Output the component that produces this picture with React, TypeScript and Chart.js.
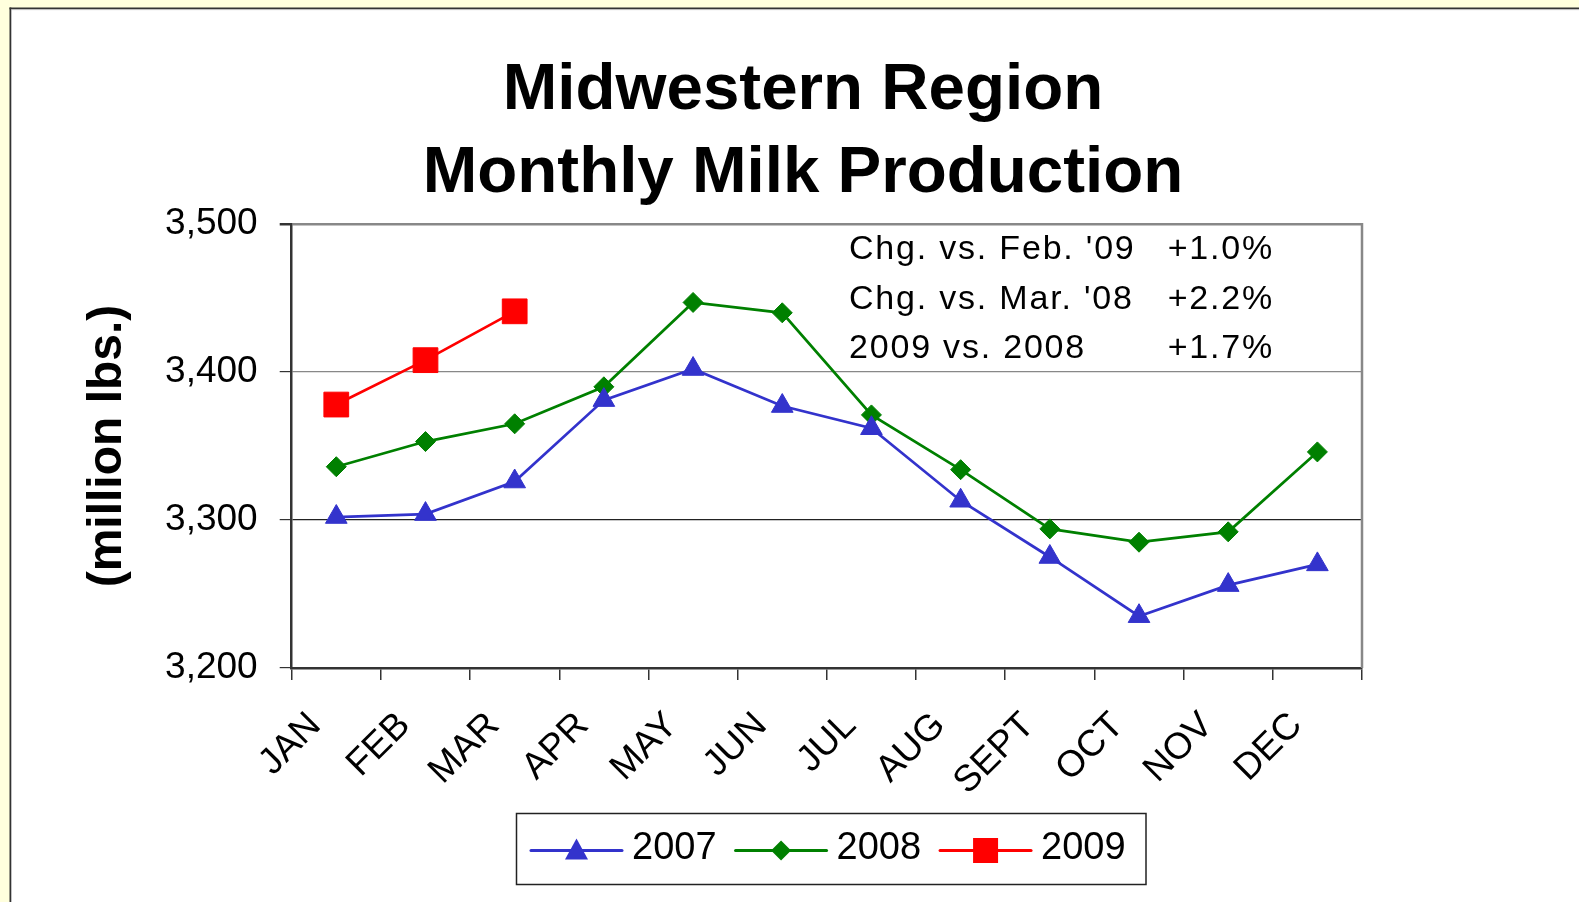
import React, { useEffect, useRef } from "react";
import { Chart, registerables } from "chart.js";

Chart.register(...registerables);

const months = ["JAN", "FEB", "MAR", "APR", "MAY", "JUN", "JUL", "AUG", "SEPT", "OCT", "NOV", "DEC"];
const series2007 = [3302, 3304, 3326, 3381, 3402, 3377, 3362, 3313, 3275, 3235, 3256, 3270];
const series2008 = [3336, 3353, 3365, 3390, 3447, 3440, 3371, 3334, 3294, 3285, 3292, 3346];
const series2009 = [3378, 3408, 3441];
const seriesNames = ["2007", "2008", "2009"];
const yTickValues = [3200, 3300, 3400, 3500];
const titleLines = ["Midwestern Region", "Monthly Milk Production"];
const yAxisTitle = "(million lbs.)";
const noteLabels = ["Chg. vs. Feb. '09", "Chg. vs. Mar. '08", "2009 vs. 2008"];
const noteValues = ["+1.0%", "+2.2%", "+1.7%"];

const W = 1579;
const H = 902;
const FONT = '"Liberation Sans", Arial, Helvetica, sans-serif';

const COLORS = ["#3333CC", "#008000", "#FF0000"];

function drawMarker(ctx: CanvasRenderingContext2D, style: string, x: number, y: number, color: string) {
  ctx.save();
  ctx.fillStyle = color;
  ctx.beginPath();
  if (style === "triangle") {
    ctx.moveTo(x, y - 12);
    ctx.lineTo(x + 11.5, y + 9);
    ctx.lineTo(x - 11.5, y + 9);
    ctx.closePath();
  } else if (style === "rectRot") {
    ctx.moveTo(x, y - 10);
    ctx.lineTo(x + 10, y);
    ctx.lineTo(x, y + 10);
    ctx.lineTo(x - 10, y);
    ctx.closePath();
  } else {
    ctx.rect(x - 12.5, y - 12.5, 25, 25);
  }
  ctx.fill();
  ctx.restore();
}

const decorPlugin = {
  id: "decor",
  beforeDraw(chart: any) {
    const ctx: CanvasRenderingContext2D = chart.ctx;
    ctx.save();
    ctx.fillStyle = "#FFFFDD";
    ctx.fillRect(0, 0, W, H);
    ctx.fillStyle = "#FFFFFF";
    ctx.fillRect(10, 8, W - 10, H - 8);
    ctx.fillStyle = "#333333";
    ctx.fillRect(9.5, 7.5, 1.8, H);
    ctx.fillRect(9.5, 7.5, W, 1.8);
    ctx.fillStyle = "#BBBBBB";
    ctx.fillRect(11.3, 9.3, W, 0.8);
    ctx.restore();
  },
  afterDraw(chart: any) {
    const ctx: CanvasRenderingContext2D = chart.ctx;
    const area = chart.chartArea;
    ctx.save();

    // right border of plot area
    ctx.strokeStyle = "#888888";
    ctx.lineWidth = 2.5;
    ctx.beginPath();
    ctx.moveTo(area.right, area.top - 1);
    ctx.lineTo(area.right, area.bottom);
    ctx.stroke();

    // Title
    ctx.fillStyle = "#000";
    ctx.textAlign = "center";
    ctx.textBaseline = "alphabetic";
    ctx.font = `bold 65.5px ${FONT}`;
    ctx.fillText(titleLines[0], 803, 108.5);
    ctx.fillText(titleLines[1], 803, 191.5);

    // Y axis title
    ctx.save();
    ctx.translate(108, (area.top + area.bottom) / 2);
    ctx.rotate(-Math.PI / 2);
    ctx.font = `bold 48px ${FONT}`;
    ctx.textAlign = "center";
    ctx.textBaseline = "middle";
    ctx.fillText(yAxisTitle, 0, 0);
    ctx.restore();

    // Notes
    ctx.font = `34px ${FONT}`;
    (ctx as any).letterSpacing = "1.8px";
    const baselines = [259, 308.5, 357.5];
    noteLabels.forEach((t, i) => {
      ctx.textAlign = "left";
      ctx.fillText(t, 849, baselines[i]);
      ctx.textAlign = "right";
      ctx.fillText(noteValues[i], 1274, baselines[i]);
    });
    (ctx as any).letterSpacing = "0px";

    // Legend
    ctx.strokeStyle = "#222";
    ctx.lineWidth = 1.5;
    ctx.strokeRect(516.5, 813.5, 629.5, 71);
    ctx.font = `38px ${FONT}`;
    ctx.textAlign = "left";
    ctx.textBaseline = "alphabetic";
    let x0 = 531;
    const ly = 850.5;
    chart.data.datasets.forEach((ds: any) => {
      ctx.strokeStyle = ds.borderColor;
      ctx.lineWidth = 3;
      ctx.lineCap = "round";
      ctx.beginPath();
      ctx.moveTo(x0, ly);
      ctx.lineTo(x0 + 91, ly);
      ctx.stroke();
      drawMarker(ctx, ds.pointStyle, x0 + 45.5, ly, ds.backgroundColor);
      ctx.fillStyle = "#000";
      ctx.fillText(ds.label, x0 + 101, 859);
      x0 += 101 + ctx.measureText(ds.label).width + 19;
    });

    ctx.restore();
  },
};

export default function App() {
  const ref = useRef<HTMLCanvasElement | null>(null);

  useEffect(() => {
    if (!ref.current) return;
    const chart = new Chart(ref.current, {
      type: "line",
      data: {
        labels: months,
        datasets: [
          {
            label: seriesNames[0],
            data: series2007,
            borderColor: COLORS[0],
            backgroundColor: COLORS[0],
            borderWidth: 2.7,
            pointStyle: "triangle",
            pointRadius: 12.5,
            pointBorderWidth: 1,
            pointBorderColor: COLORS[0],
            pointBackgroundColor: COLORS[0],
            tension: 0,
          },
          {
            label: seriesNames[1],
            data: series2008,
            borderColor: COLORS[1],
            backgroundColor: COLORS[1],
            borderWidth: 2.7,
            pointStyle: "rectRot",
            pointRadius: 10,
            pointBorderWidth: 1,
            pointBorderColor: COLORS[1],
            pointBackgroundColor: COLORS[1],
            tension: 0,
          },
          {
            label: seriesNames[2],
            data: series2009,
            borderColor: COLORS[2],
            backgroundColor: COLORS[2],
            borderWidth: 2.7,
            pointStyle: "rect",
            pointRadius: 17.5,
            pointBorderWidth: 1,
            pointBorderColor: COLORS[2],
            pointBackgroundColor: COLORS[2],
            tension: 0,
          },
        ],
      },
      options: {
        animation: false,
        responsive: false,
        maintainAspectRatio: false,
        devicePixelRatio: 1,
        layout: { padding: { left: 0, top: 224, right: W - 1362, bottom: 0 } },
        plugins: {
          legend: { display: false },
          title: { display: false },
          tooltip: { enabled: false },
        },
        scales: {
          x: {
            type: "category",
            offset: true,
            grid: {
              offset: true,
              drawOnChartArea: false,
              drawTicks: true,
              tickLength: 12,
              color: "#333",
              lineWidth: 1.5,
            },
            border: { display: true, color: "#333", width: 2.5 },
            ticks: {
              autoSkip: false,
              maxRotation: 45,
              minRotation: 45,
              padding: 24,
              labelOffset: -21,
              color: "#000",
              font: { family: FONT, size: 37 },
            },
            afterFit: (s: any) => {
              s.height = H - 668;
            },
          },
          y: {
            min: 3200,
            max: 3500,
            afterBuildTicks: (s: any) => {
              s.ticks = yTickValues.map((v) => ({ value: v }));
            },
            ticks: {
              padding: 22,
              color: "#000",
              font: { family: FONT, size: 37 },
              callback: (v: any) => Number(v).toLocaleString("en-US"),
            },
            grid: {
              drawTicks: true,
              tickLength: 12,
              tickColor: "#333",
              color: (c: any) => (c.tick && c.tick.value === 3300 ? "#222" : "#888"),
              lineWidth: (c: any) => (c.tick && c.tick.value === 3500 ? 2.5 : 1.2),
            },
            border: { display: true, color: "#333", width: 2.5 },
            afterFit: (s: any) => {
              s.width = 291.7;
            },
          },
        },
      },
      plugins: [decorPlugin],
    });
    return () => chart.destroy();
  }, []);

  return (
    <div style={{ position: "fixed", left: 0, top: 0, width: W, height: H, overflow: "hidden" }}>
      <canvas ref={ref} width={W} height={H} style={{ display: "block", width: W, height: H }} />
    </div>
  );
}
